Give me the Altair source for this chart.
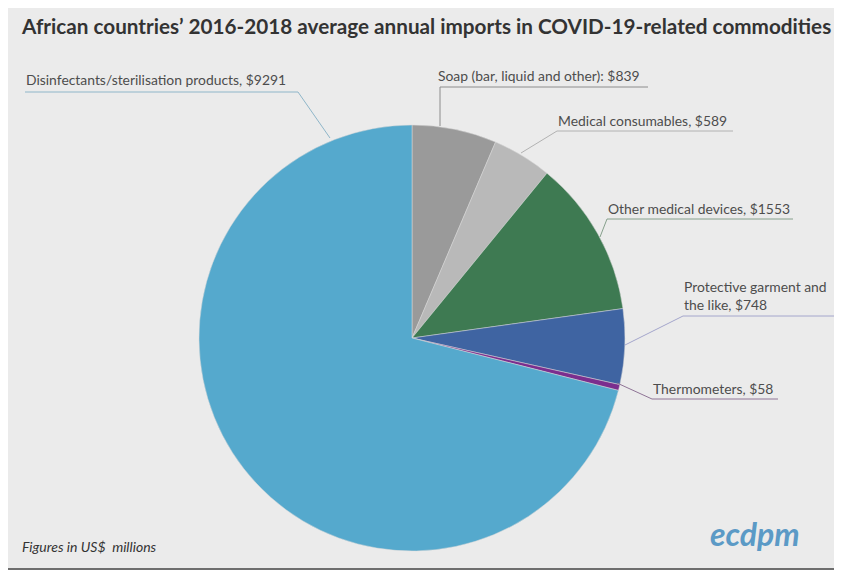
import altair as alt
import pandas as pd

# ---- data ----
categories = [
    "Soap (bar, liquid and other)",
    "Medical consumables",
    "Other medical devices",
    "Protective garment and the like",
    "Thermometers",
    "Disinfectants/sterilisation products",
]
values = [839, 589, 1553, 748, 58, 9291]
label_texts = [
    ["Soap (bar, liquid and other): $839"],
    ["Medical consumables, $589"],
    ["Other medical devices, $1553"],
    ["Protective garment and", "the like, $748"],
    ["Thermometers, $58"],
    ["Disinfectants/sterilisation products, $9291"],
]
colors = ["#9a9a9a", "#b9b9b9", "#3e7a52", "#3f64a2", "#7b2e8e", "#55a9cd"]
line_colors = ["#8c8c8c", "#b2b2b2", "#86a08c", "#a4a6cc", "#8f7496", "#8fb6c9"]

title_text = "African countries\u2019 2016-2018 average annual imports in COVID-19-related commodities"
note_text = "Figures in US$\u00a0 millions"
logo_text = "ecdpm"

# ---- layout (page pixel coordinates) ----
OFF = 8
W, H = 826, 562
CX, CY, R = 412, 338, 213
# label anchor (x, baseline y) per category
label_pos = [(438, 81), (558, 126), (608, 214), (684, 292), (653, 394), (26, 85)]
LINE_H = 18
# leader polyline: underline start, underline end, point on pie
leader = [
    ((440, 87), (648, 87), (440, 126)),
    ((557, 131), (733, 131), (521, 153)),
    ((607, 219), (793, 219), (600, 237)),
    ((683, 316), (835, 316), (625, 345)),
    ((652, 399), (778, 399), (617, 383)),
    ((298, 92), (25, 92), (330, 138)),
]

xs = alt.Scale(domain=[0, W], nice=False, zero=False)
ys = alt.Scale(domain=[0, H], nice=False, zero=False, reverse=True)

pie_df = pd.DataFrame({
    "category": categories,
    "value": values,
    "order": list(range(len(categories))),
})

pie = alt.Chart(pie_df).mark_arc(
    outerRadius=R, stroke="#d8d8d8", strokeWidth=0.5
).encode(
    theta=alt.Theta("value:Q", stack=True),
    color=alt.Color("category:N", scale=alt.Scale(domain=categories, range=colors), legend=None),
    order=alt.Order("order:Q"),
    x=alt.value(CX - OFF),
    y=alt.value(CY - OFF),
)

# label text rows
rows = []
for cat, lines, (lx, ly) in zip(categories, label_texts, label_pos):
    for i, t in enumerate(lines):
        rows.append({"category": cat, "text": t, "x": lx - OFF, "y": ly - OFF + i * LINE_H})
lab_df = pd.DataFrame(rows)
labels = alt.Chart(lab_df).mark_text(
    align="left", baseline="alphabetic", font="Lato", fontSize=13.9, color="#4d4d4d"
).encode(
    x=alt.X("x:Q", scale=xs, axis=None),
    y=alt.Y("y:Q", scale=ys, axis=None),
    text="text:N",
)

# leader segments
segs = []
for cat, (a, b, p), lc in zip(categories, leader, line_colors):
    segs.append({"category": cat, "x": a[0] - OFF, "y": a[1] - OFF, "x2": b[0] - OFF, "y2": b[1] - OFF, "lc": lc})
    segs.append({"category": cat, "x": a[0] - OFF, "y": a[1] - OFF, "x2": p[0] - OFF, "y2": p[1] - OFF, "lc": lc})
seg_df = pd.DataFrame(segs)
leaders = alt.Chart(seg_df).mark_rule(strokeWidth=1).encode(
    x=alt.X("x:Q", scale=xs, axis=None),
    y=alt.Y("y:Q", scale=ys, axis=None),
    x2="x2:Q",
    y2="y2:Q",
    stroke=alt.Stroke("lc:N", scale=None),
)

title = alt.Chart(pd.DataFrame({"t": [title_text], "x": [22 - OFF], "y": [34 - OFF]})).mark_text(
    align="left", baseline="alphabetic", font="Lato", fontSize=20.7, fontWeight="bold", color="#333333"
).encode(x=alt.X("x:Q", scale=xs, axis=None), y=alt.Y("y:Q", scale=ys, axis=None), text="t:N")

note = alt.Chart(pd.DataFrame({"t": [note_text], "x": [22 - OFF], "y": [552 - OFF]})).mark_text(
    align="left", baseline="alphabetic", font="Lato", fontSize=14, fontStyle="italic", color="#333333"
).encode(x=alt.X("x:Q", scale=xs, axis=None), y=alt.Y("y:Q", scale=ys, axis=None), text="t:N")

logo = alt.Chart(pd.DataFrame({"t": [logo_text], "x": [710 - OFF], "y": [546 - OFF]})).mark_text(
    align="left", baseline="alphabetic", font="Lato", fontSize=32, fontStyle="italic", fontWeight="bold", color="#5b9ac6"
).encode(x=alt.X("x:Q", scale=xs, axis=None), y=alt.Y("y:Q", scale=ys, axis=None), text="t:N")

bottom = alt.Chart(pd.DataFrame({"x": [0], "x2": [W], "y": [H - 1]})).mark_rule(
    color="#6e6e6e", strokeWidth=2
).encode(x=alt.X("x:Q", scale=xs, axis=None), x2="x2:Q", y=alt.Y("y:Q", scale=ys, axis=None))

chart = alt.layer(pie, leaders, labels, title, note, logo, bottom).properties(
    width=W, height=H, padding=0, background="#ebebeb",
    autosize=alt.AutoSizeParams(type="none"),
).configure_view(stroke=None)

chart.save("out.html", embed_options={"renderer": "svg", "actions": False})
